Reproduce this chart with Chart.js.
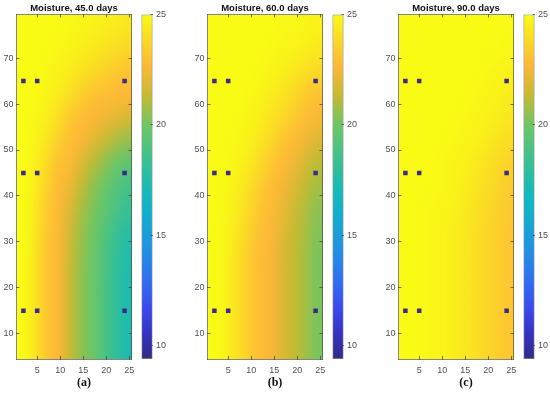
<!DOCTYPE html>
<html>
<head>
<meta charset="utf-8">
<title>Moisture maps</title>
<script src="https://cdn.jsdelivr.net/npm/chart.js@4"></script>
<style>
  body { margin: 0; background: #fff; }
  #page { position: relative; width: 550px; height: 393px; overflow: hidden; }
  canvas { position: absolute; top: 0; }
</style>
</head>
<body>
<div id="page"></div>
<script>
// Panel labels
const panelTitles = ['Moisture, 45.0 days', 'Moisture, 60.0 days', 'Moisture, 90.0 days'];
const panelCaptions = ['(a)', '(b)', '(c)'];

// Axis ticks
const xTickValues = [5, 10, 15, 20, 25];
const yTickValues = [10, 20, 30, 40, 50, 60, 70];
const colorTickValues = [10, 15, 20, 25];
const xRange = [0.5, 25.5];
const yRange = [4.5, 79.5];
const colorRange = [9.4, 25];

// Sensor positions
const sensorX = [2, 5, 24];
const sensorY = [15, 45, 65];

// Heat map grid: cell centres, rows listed top to bottom
const xCells = [1.75, 4.25, 6.75, 9.25, 11.75, 14.25, 16.75, 19.25, 21.75, 24.25];
const yCells = [77, 72, 67, 62, 57, 52, 47, 42, 37, 32, 27, 22, 17, 12, 7];

const moisture45 = [
    [25, 25, 25, 25, 24.9, 24.8, 24.7, 24.6, 24.5, 24.3],
    [25, 25, 25, 24.9, 24.8, 24.6, 24.4, 24.2, 24, 23.8],
    [25, 25, 24.9, 24.7, 24.5, 24.2, 23.9, 23.6, 23.3, 23.1],
    [25, 25, 24.8, 24.5, 24.1, 23.6, 23.1, 22.9, 22.8, 22.7],
    [25, 24.9, 24.6, 24.1, 23.4, 22.9, 22.7, 22.4, 22.1, 21.8],
    [25, 24.8, 24.3, 23.6, 23, 22.7, 22.1, 21.5, 21, 20.6],
    [25, 24.7, 24, 23.1, 22.8, 22, 21.2, 20.6, 20, 19.5],
    [25, 24.6, 23.7, 22.9, 22.4, 21.4, 20.6, 20, 19.4, 18.8],
    [25, 24.5, 23.5, 22.8, 22, 21, 20.3, 19.7, 19, 18.3],
    [25, 24.4, 23.4, 22.8, 21.8, 20.8, 20.1, 19.3, 18.5, 17.8],
    [25, 24.3, 23.3, 22.7, 21.7, 20.7, 20, 19.2, 18.3, 17.5],
    [25, 24.3, 23.3, 22.7, 21.6, 20.6, 20, 19.1, 18.2, 17.4],
    [25, 24.3, 23.3, 22.7, 21.6, 20.6, 20, 19.1, 18.2, 17.4],
    [25, 24.3, 23.3, 22.7, 21.6, 20.6, 20, 19.1, 18.2, 17.4],
    [25, 24.3, 23.3, 22.7, 21.6, 20.6, 20, 19.1, 18.2, 17.4]
];

const moisture60 = [
    [25, 25, 25, 25, 25, 25, 24.9, 24.9, 24.8, 24.7],
    [25, 25, 25, 25, 25, 24.9, 24.8, 24.7, 24.6, 24.4],
    [25, 25, 25, 25, 24.9, 24.8, 24.6, 24.3, 24, 23.8],
    [25, 25, 25, 24.9, 24.8, 24.5, 24.2, 23.8, 23.4, 23],
    [25, 25, 25, 24.8, 24.6, 24.2, 23.8, 23.3, 22.9, 22.6],
    [25, 25, 24.9, 24.7, 24.3, 23.8, 23.2, 22.8, 22.4, 21.9],
    [25, 25, 24.8, 24.4, 23.9, 23.3, 22.8, 22.3, 21.7, 21.2],
    [25, 24.9, 24.6, 24.1, 23.5, 22.9, 22.5, 21.9, 21.3, 20.8],
    [25, 24.9, 24.5, 23.9, 23.2, 22.8, 22.2, 21.6, 21, 20.5],
    [25, 24.8, 24.3, 23.7, 23, 22.7, 22, 21.4, 20.9, 20.3],
    [25, 24.8, 24.2, 23.5, 22.9, 22.6, 21.9, 21.3, 20.8, 20.2],
    [25, 24.8, 24.2, 23.5, 22.9, 22.6, 21.9, 21.3, 20.8, 20.2],
    [25, 24.8, 24.2, 23.5, 22.9, 22.6, 21.9, 21.3, 20.8, 20.2],
    [25, 24.8, 24.2, 23.5, 22.9, 22.6, 21.9, 21.3, 20.8, 20.2],
    [25, 24.8, 24.2, 23.5, 22.9, 22.6, 21.9, 21.3, 20.8, 20.2]
];

const moisture90 = [
    [25, 25, 25, 25, 25, 25, 25, 25, 25, 24.95],
    [25, 25, 25, 25, 25, 25, 25, 25, 24.95, 24.9],
    [25, 25, 25, 25, 25, 25, 25, 24.9, 24.8, 24.7],
    [25, 25, 25, 25, 25, 25, 24.9, 24.8, 24.7, 24.5],
    [25, 25, 25, 25, 25, 24.9, 24.8, 24.7, 24.5, 24.3],
    [25, 25, 25, 25, 24.9, 24.8, 24.7, 24.5, 24.2, 24],
    [25, 25, 25, 24.9, 24.8, 24.7, 24.5, 24.2, 23.9, 23.6],
    [25, 25, 25, 24.9, 24.8, 24.6, 24.3, 24, 23.7, 23.4],
    [25, 25, 24.9, 24.8, 24.7, 24.5, 24.2, 23.9, 23.6, 23.3],
    [25, 25, 24.9, 24.8, 24.6, 24.4, 24.1, 23.8, 23.5, 23.2],
    [25, 25, 24.9, 24.8, 24.6, 24.4, 24.1, 23.8, 23.5, 23.2],
    [25, 25, 24.9, 24.8, 24.6, 24.4, 24.1, 23.8, 23.5, 23.2],
    [25, 25, 24.9, 24.8, 24.6, 24.4, 24.1, 23.8, 23.5, 23.2],
    [25, 25, 24.9, 24.8, 24.6, 24.4, 24.1, 23.8, 23.5, 23.2],
    [25, 25, 24.9, 24.8, 24.6, 24.4, 24.1, 23.8, 23.5, 23.2]
];

const panelValues = [moisture45, moisture60, moisture90];

// Colour map stops (value, rgb)
const colorStopValues = [9.4, 10.5, 11.6, 13, 14.5, 16, 17, 18.2, 20, 21.3, 22.7, 25];
const colorStopRgb = [
    [53, 42, 135], [52, 50, 190], [60, 70, 235], [48, 112, 240], [32, 148, 225], [16, 176, 205],
    [20, 186, 185], [52, 192, 150], [110, 198, 100], [196, 186, 50], [253, 184, 55], [249, 251, 20]
];

// Layout in the page
const panelLefts = [0, 191, 382];
const plotInset = 16.5;
const frameColor = 'rgba(70, 70, 60, 0.65)';
const tickColor = 'rgba(70, 70, 60, 0.75)';
const labelColor = '#505050';

Chart.defaults.font.family = '"Liberation Sans", Arial, sans-serif';

const page = document.getElementById('page');

function addCanvas(left, width) {
    const canvas = document.createElement('canvas');
    canvas.width = width;
    canvas.height = 393;
    canvas.style.left = left + 'px';
    page.appendChild(canvas);
    return canvas;
}

// Look up a moisture value in the colour map
function colorFor(value) {
    let i = 0;
    while (i < colorStopValues.length - 2 && value > colorStopValues[i + 1]) i++;
    const t = (value - colorStopValues[i]) / (colorStopValues[i + 1] - colorStopValues[i]);
    const a = colorStopRgb[i];
    const b = colorStopRgb[i + 1];
    return [0, 1, 2].map(k => Math.round(a[k] + (b[k] - a[k]) * t));
}

// Heat map: one source pixel per cell, stretched over the scales with smoothing on
const heatMapPlugin = {
    id: 'heatMap',
    beforeDraw(chart, args, opts) {
        const rows = opts.values;
        const image = document.createElement('canvas');
        image.width = xCells.length;
        image.height = yCells.length;
        const imageContext = image.getContext('2d');
        const pixels = imageContext.createImageData(image.width, image.height);
        rows.forEach((row, r) => {
            row.forEach((value, c) => {
                const [red, green, blue] = colorFor(value);
                const offset = (r * image.width + c) * 4;
                pixels.data[offset] = red;
                pixels.data[offset + 1] = green;
                pixels.data[offset + 2] = blue;
                pixels.data[offset + 3] = 255;
            });
        });
        imageContext.putImageData(pixels, 0, 0);

        const { x, y } = chart.scales;
        const left = x.getPixelForValue(xRange[0]);
        const right = x.getPixelForValue(xRange[1]);
        const top = y.getPixelForValue(yRange[1]);
        const bottom = y.getPixelForValue(yRange[0]);
        const ctx = chart.ctx;
        ctx.save();
        ctx.imageSmoothingEnabled = true;
        ctx.imageSmoothingQuality = 'high';
        ctx.drawImage(image, left, top, right - left, bottom - top);
        ctx.restore();
    }
};

function setTicks(values) {
    return scale => { scale.ticks = values.map(value => ({ value })); };
}

// Gridline settings for the inward MATLAB style ticks
function insideTicks(length) {
    return { drawOnChartArea: false, tickLength: -length, tickColor: tickColor, z: 1 };
}

function buildPanel(index) {
    const canvas = addCanvas(panelLefts[index], 168);
    const sensors = [];
    sensorY.forEach(y => sensorX.forEach(x => sensors.push({ x, y })));

    new Chart(canvas, {
        type: 'scatter',
        data: {
            datasets: [{
                data: sensors,
                pointStyle: 'rect',
                pointRadius: 3.2,
                backgroundColor: '#3b2c88',
                borderWidth: 0
            }]
        },
        plugins: [heatMapPlugin],
        options: {
            responsive: false,
            animation: false,
            events: [],
            scales: {
                x: {
                    type: 'linear',
                    position: 'bottom',
                    min: xRange[0],
                    max: xRange[1],
                    afterBuildTicks: setTicks(xTickValues),
                    afterFit: scale => { scale.height = 16.6; },
                    grid: insideTicks(3),
                    border: { color: frameColor, z: 1 },
                    ticks: { color: labelColor, font: { size: 9 }, padding: 9, maxRotation: 0 }
                },
                y: {
                    type: 'linear',
                    position: 'left',
                    min: yRange[0],
                    max: yRange[1],
                    afterBuildTicks: setTicks(yTickValues),
                    afterFit: scale => { scale.width = plotInset; },
                    grid: insideTicks(3),
                    border: { color: frameColor, z: 1 },
                    ticks: { color: labelColor, font: { size: 9 }, padding: 6 }
                },
                xTop: {
                    type: 'linear',
                    position: 'top',
                    min: xRange[0],
                    max: xRange[1],
                    afterBuildTicks: setTicks(xTickValues),
                    afterFit: scale => { scale.height = 0; },
                    grid: insideTicks(3),
                    border: { color: frameColor, z: 1 },
                    ticks: { display: false }
                },
                yRight: {
                    type: 'linear',
                    position: 'right',
                    min: yRange[0],
                    max: yRange[1],
                    afterBuildTicks: setTicks(yTickValues),
                    afterFit: scale => { scale.width = 36.5; },
                    grid: insideTicks(3),
                    border: { color: frameColor, z: 1 },
                    ticks: { display: false }
                }
            },
            plugins: {
                legend: { display: false },
                tooltip: { enabled: false },
                heatMap: { values: panelValues[index] },
                title: {
                    display: true,
                    text: panelTitles[index],
                    fullSize: false,
                    color: '#111111',
                    font: { size: 9.5, weight: 'bold', lineHeight: 1.2 },
                    padding: { top: 2.6, bottom: 0.5 }
                },
                subtitle: {
                    display: true,
                    position: 'bottom',
                    text: panelCaptions[index],
                    color: '#111111',
                    font: { family: '"Liberation Serif", serif', size: 12, weight: 'bold', lineHeight: 1.2 },
                    padding: { top: 0.5, bottom: 2.5 }
                }
            }
        }
    });
}

function buildColorBar(index) {
    const canvas = addCanvas(panelLefts[index] + 136, 40);

    new Chart(canvas, {
        type: 'bar',
        data: {
            labels: ['Moisture'],
            datasets: [{
                data: [colorRange],
                barPercentage: 1,
                categoryPercentage: 1,
                borderWidth: 1,
                borderSkipped: false,
                borderColor: frameColor,
                backgroundColor: context => {
                    const area = context.chart.chartArea;
                    if (!area) return '#000';
                    const gradient = context.chart.ctx.createLinearGradient(0, area.bottom, 0, area.top);
                    const span = colorRange[1] - colorRange[0];
                    colorStopValues.forEach((value, i) => {
                        gradient.addColorStop((value - colorRange[0]) / span, 'rgb(' + colorStopRgb[i].join(',') + ')');
                    });
                    return gradient;
                }
            }]
        },
        options: {
            responsive: false,
            animation: false,
            events: [],
            layout: { padding: { top: 14.5, bottom: 34, left: 5.5 } },
            scales: {
                x: { display: false },
                y: {
                    position: 'right',
                    min: colorRange[0],
                    max: colorRange[1],
                    afterBuildTicks: setTicks(colorTickValues),
                    afterFit: scale => { scale.width = 23.5; },
                    grid: insideTicks(2),
                    border: { display: false },
                    ticks: { color: labelColor, font: { size: 9 }, padding: 5.5 }
                }
            },
            plugins: {
                legend: { display: false },
                tooltip: { enabled: false }
            }
        }
    });
}

panelTitles.forEach((title, index) => {
    buildPanel(index);
    buildColorBar(index);
});
</script>
</body>
</html>
